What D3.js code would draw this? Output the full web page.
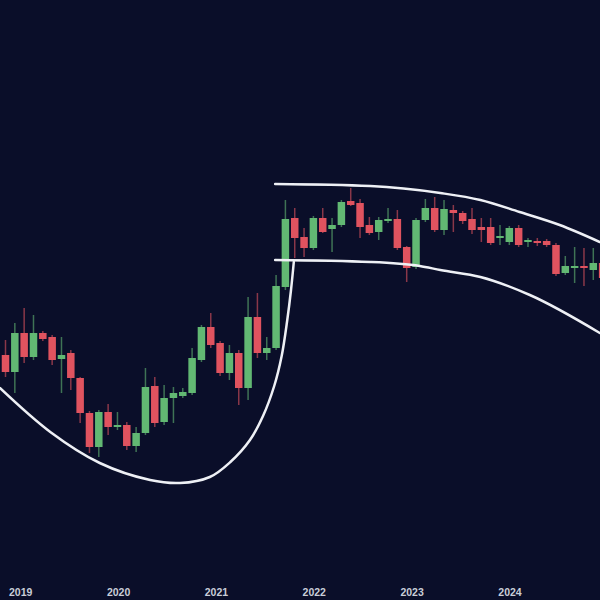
<!DOCTYPE html>
<html>
<head>
<meta charset="utf-8">
<script src="https://cdn.jsdelivr.net/npm/d3@7"></script>
<style>
  html, body { margin: 0; padding: 0; background: #0a0e29; }
  svg { display: block; }
</style>
</head>
<body>
<svg id="chart" width="600" height="600"></svg>
<script>
// candle data: index -1 .. 64, price units (arbitrary)
var opens  = [70, 62.5, 54, 73.5, 61.5, 73.5, 71.5, 60.5, 63.5, 51, 33.5, 16.5, 34, 26.5, 27.5, 17, 23.5, 47, 29, 41, 42,
              43.5, 60, 76.5, 68.5, 53.5, 63.5, 46, 81.5, 63.5, 66, 96.5, 131, 121.5, 116, 131, 125.5, 127.5, 139.5, 138.5, 127.5,
              124, 129.5, 130.5, 116.5, 106.5, 130, 136, 125, 135, 133.5, 130.5, 126.5, 126.5, 121, 119, 126, 119, 119.5, 119.5, 117.5,
              103.5, 106, 107, 105, 108.5];
var highs  = [72.5, 70, 78.5, 86, 82.5, 74.5, 72.5, 71.5, 65, 51.5, 34.5, 35, 38, 34, 29, 26.5, 56, 51.5, 47.5, 46.5, 46,
              66, 77.5, 83.5, 69.5, 67.5, 65, 91.5, 93.5, 71.5, 102.5, 140, 136, 126, 132, 136, 131, 140, 146, 140.5, 131.5,
              131.5, 136, 135, 117, 131, 140.5, 141.5, 140, 137.5, 134.5, 136, 131, 131, 127.5, 127, 127.5, 121, 121, 120.5, 118.5,
              112, 116.5, 116, 116, 112];
var lows   = [60, 51.5, 43.5, 58.5, 60, 69.5, 57.5, 43.5, 45, 28.5, 13.5, 11.5, 22.5, 25, 15, 14, 22.5, 26.5, 27.5, 28.5, 41,
              42.5, 59, 66, 52, 50, 37.5, 40, 61, 60, 65, 95, 111, 111.5, 115, 123.5, 114, 126.5, 137, 121, 122.5,
              120, 128.5, 115, 99, 105.5, 129, 124, 122.5, 124, 128, 123, 119, 117.5, 117.5, 117.5, 116.5, 116.5, 117, 116.5, 102,
              102.5, 98.5, 97, 100, 100];
var closes = [61.5, 54, 73.5, 61.5, 73.5, 70.5, 60, 62.5, 51, 33.5, 16.5, 34, 26.5, 27.5, 17, 23.5, 46.5, 28.5, 41, 43.5, 44,
              61, 76.5, 67.5, 53.5, 63.5, 46, 81.5, 63.5, 66, 97, 130.5, 121, 116, 131, 124, 127.5, 139, 137.5, 126.5, 123.5,
              130, 130.5, 116, 106, 130, 136, 125, 135.5, 133.5, 129.5, 125, 125, 118.5, 122, 126, 117.5, 120, 118.5, 117.5, 103,
              107, 107, 106, 108.5, 101];

// pattern guides (candle index, price)
var cupLine   = [[-0.6, 46], [4.8, 24], [10.1, 8.5], [15.5, 0], [18.7, -1.5], [21.9, 1.5], [24.1, 9], [26.2, 20],
                 [27.6, 32], [28.8, 47], [29.6, 62], [30.2, 80], [30.6, 95], [30.9, 109]];
var upperLine = [[28.9, 148], [39.1, 147], [46.6, 143.5], [50.9, 140], [55.1, 134], [59.4, 127.5], [63.7, 119]];
var lowerLine = [[28.9, 110], [39.1, 109], [44.4, 107], [46.6, 105], [50.9, 101.5], [56.2, 92.5], [63.7, 73.5]];

var years = [2019, 2020, 2021, 2022, 2023, 2024];
var yearAt = [1.63, 54.07]; // candle index of first and last year label

var W = 600, H = 600,
    green = "#62b873",
    red = "#e0535f";

var x = d3.scaleLinear().domain([0, 63]).range([5.5, 593.3]),
    y = d3.scaleLinear().domain([0, 240]).range([480, 0]),
    yearX = d3.scaleLinear().domain([years[0], years[years.length - 1]]).range(yearAt);

var candles = opens.map(function(o, i) {
  return {i: i - 1, o: o, h: highs[i], l: lows[i], c: closes[i]};
});

var svg = d3.select("#chart");

svg.append("rect")
  .attr("width", W)
  .attr("height", H)
  .attr("fill", "#0a0e29");

var bodyW = 7.5;

var g = svg.append("g");

var candle = g.selectAll("g.candle")
  .data(candles)
  .enter().append("g")
    .attr("class", "candle");

candle.append("line")
  .attr("x1", function(d) { return x(d.i); })
  .attr("x2", function(d) { return x(d.i); })
  .attr("y1", function(d) { return y(d.h); })
  .attr("y2", function(d) { return y(d.l); })
  .attr("stroke", function(d) { return d.c >= d.o ? green : red; })
  .attr("stroke-opacity", 0.6)
  .attr("stroke-width", 1.5);

candle.append("rect")
  .attr("x", function(d) { return x(d.i) - bodyW / 2; })
  .attr("width", bodyW)
  .attr("y", function(d) { return y(Math.max(d.o, d.c)); })
  .attr("height", function(d) { return Math.max(2, Math.abs(y(d.o) - y(d.c))); })
  .attr("fill", function(d) { return d.c >= d.o ? green : red; });

var smooth = d3.line()
  .x(function(d) { return x(d[0]); })
  .y(function(d) { return y(d[1]); })
  .curve(d3.curveCatmullRom.alpha(0.5));

var flat = d3.line()
  .x(function(d) { return x(d[0]); })
  .y(function(d) { return y(d[1]); })
  .curve(d3.curveMonotoneX);

g.selectAll("path.guide")
  .data([[cupLine, smooth], [upperLine, flat], [lowerLine, flat]])
  .enter().append("path")
    .attr("class", "guide")
    .attr("d", function(d) { return d[1](d[0]); })
    .attr("fill", "none")
    .attr("stroke", "#eef0f5")
    .attr("stroke-width", 2.5)
    .attr("stroke-linecap", "round");

svg.selectAll("text.year")
  .data(years)
  .enter().append("text")
    .attr("class", "year")
    .attr("x", function(d) { return x(yearX(d)); })
    .attr("y", 596)
    .attr("text-anchor", "middle")
    .attr("fill", "#c9cdd8")
    .attr("font-family", "'Liberation Sans', Arial, sans-serif")
    .attr("font-weight", "bold")
    .attr("font-size", "10.5px")
    .text(function(d) { return d; });
</script>
</body>
</html>
